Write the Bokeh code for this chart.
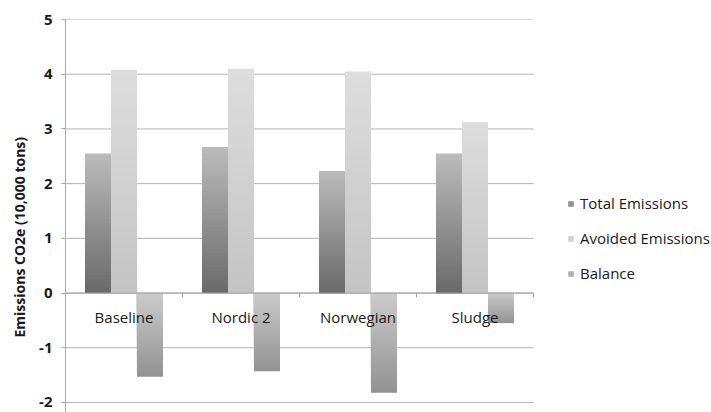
from bokeh.core.properties import value
from bokeh.embed import file_html
from bokeh.models import (ColumnDataSource, FixedTicker, Legend, LegendItem,
                          Range1d, Title)
from bokeh.plotting import figure
from bokeh.resources import INLINE

# ---- data -------------------------------------------------------------
categories = ["Baseline", "Nordic 2", "Norwegian", "Sludge"]
total_emissions = [2.55, 2.67, 2.23, 2.55]
avoided_emissions = [4.08, 4.10, 4.05, 3.12]
balance = [-1.53, -1.43, -1.82, -0.55]
y_ticks = [-2, -1, 0, 1, 2, 3, 4, 5]

series_names = ["Total Emissions", "Avoided Emissions", "Balance"]
series_values = [total_emissions, avoided_emissions, balance]

# ---- styling ----------------------------------------------------------
FONT = "Open Sans"
# gradient end colours per series: (at zero, at bar tip)
gradients = [((0x6a, 0x6a, 0x6a), (0xbb, 0xbb, 0xbb)),
             ((0xc4, 0xc4, 0xc4), (0xdd, 0xdd, 0xdd)),
             ((0xcb, 0xcb, 0xcb), (0x92, 0x92, 0x92))]
bar_width = 0.222
offsets = [-bar_width, 0.0, bar_width]
N_SLICES = 40
n_cat = len(categories)
# the frame also holds the legend area; the category axis uses 117 px per category
x_end = 646 / 117


def mix(c0, c1, t):
    return "#%02x%02x%02x" % tuple(int(round(a + (b - a) * t)) for a, b in zip(c0, c1))


p = figure(width=711, height=412, output_backend="svg", toolbar_location=None,
           x_range=Range1d(0, x_end), y_range=Range1d(-2.183, 5),
           x_axis_location=None, min_border_left=65, min_border_right=0,
           min_border_top=19, min_border_bottom=0)
p.outline_line_color = None
p.background_fill_color = "white"
p.border_fill_color = "white"
p.xgrid.visible = False
p.ygrid.visible = False

ax = p.yaxis[0]
ax.ticker = FixedTicker(ticks=y_ticks)
ax.major_label_overrides = {t: str(t) for t in y_ticks}
ax.axis_line_color = "#a8a8a8"
ax.major_tick_line_color = "#a8a8a8"
ax.major_tick_in = 0
ax.major_tick_out = 4
ax.minor_tick_line_color = None
ax.major_label_standoff = 9
ax.major_label_text_font = FONT
ax.major_label_text_font_size = "15px"
ax.major_label_text_font_style = "bold"
ax.major_label_text_color = "#1a1a1a"

# horizontal gridlines spanning the category area only
p.segment(x0=[0] * len(y_ticks), x1=[n_cat] * len(y_ticks), y0=y_ticks, y1=y_ticks,
          line_color="#b4b4b4", line_width=1)

# bars: each bar is a set of nested rectangles, longest first, so the
# shorter ones paint a vertical gradient from the zero line to the tip
centers = [i + 0.5 for i in range(n_cat)]
bar_renderers = []
for s, vals in enumerate(series_values):
    xs, tops, colors = [], [], []
    c_zero, c_tip = gradients[s]
    for k in reversed(range(N_SLICES)):
        for i, v in enumerate(vals):
            xs.append(centers[i] + offsets[s])
            tops.append(v * (k + 1) / N_SLICES)
            colors.append(mix(c_zero, c_tip, (k + 0.5) / N_SLICES))
    src = ColumnDataSource(dict(x=xs, top=tops, color=colors))
    bar_renderers.append(p.vbar(x="x", bottom=0, top="top", width=bar_width, source=src,
                                fill_color="color", line_color=None))

# zero line with category boundary ticks
bounds = list(range(n_cat + 1))
p.segment(x0=[0], x1=[n_cat], y0=[0], y1=[0], line_color="#a0a0a0", line_width=1)
p.segment(x0=bounds, x1=bounds, y0=[0] * len(bounds), y1=[-0.075] * len(bounds),
          line_color="#a0a0a0", line_width=1)

# category names sit just under the zero line
p.text(x=centers, y=[0] * n_cat, text=categories, y_offset=24,
       text_align="center", text_baseline="middle", text_font=value(FONT),
       text_font_size="15px", text_color="#1a1a1a")

# y-axis title
p.add_layout(Title(text="Emissions CO2e (10,000 tons)", align="left", offset=75,
                   standoff=15, text_font=FONT, text_font_size="14px",
                   text_font_style="bold", text_color="#1a1a1a"), "left")

# legend: each swatch takes the mid-gradient colour of its series
mid_row = (N_SLICES // 2) * n_cat
items = [LegendItem(label=name, renderers=[r], index=mid_row)
         for name, r in zip(series_names, bar_renderers)]
legend = Legend(items=items, location=(502, 129), orientation="vertical",
                glyph_width=7, glyph_height=7, label_height=20, spacing=15,
                label_standoff=6, padding=0, margin=0,
                border_line_color=None, background_fill_alpha=0,
                label_text_font=FONT, label_text_font_size="15px",
                label_text_color="#1a1a1a")
p.add_layout(legend, "center")

open("out.html", "w").write(file_html(p, INLINE))
